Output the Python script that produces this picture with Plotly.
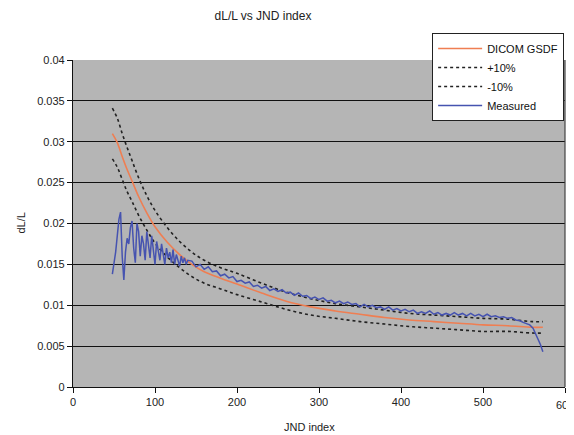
import plotly.graph_objects as go

# ---- data ----
gsdf_x = [48, 54, 60, 66, 72, 80, 90, 100, 115, 130, 145, 160, 180, 200, 230, 260,
          290, 320, 350, 380, 410, 440, 470, 500, 530, 560, 573]
gsdf_y = [0.0310, 0.0299, 0.0282, 0.0266, 0.0252, 0.0233, 0.0213, 0.0196, 0.0177,
          0.0162, 0.0150, 0.0141, 0.0133, 0.0126, 0.0115, 0.0105, 0.0098, 0.0093,
          0.0089, 0.0085, 0.0082, 0.0080, 0.0078, 0.0076, 0.0075, 0.0073, 0.0073]
plus10_y = [0.0341, 0.0329, 0.0310, 0.0293, 0.0277, 0.0256, 0.0234, 0.0216, 0.0195,
            0.0178, 0.0165, 0.0155, 0.0146, 0.0139, 0.0127, 0.0116, 0.0108, 0.0102,
            0.0098, 0.0094, 0.0090, 0.0088, 0.0086, 0.0084, 0.0083, 0.0080, 0.0080]
minus10_y = [0.0279, 0.0269, 0.0254, 0.0239, 0.0227, 0.0210, 0.0192, 0.0176, 0.0159,
             0.0146, 0.0135, 0.0127, 0.0120, 0.0113, 0.0104, 0.0095, 0.0088, 0.0084,
             0.0080, 0.0077, 0.0074, 0.0072, 0.0070, 0.0068, 0.0068, 0.0066, 0.0066]

meas_x = [48, 50, 52, 54, 56, 58, 60, 62, 64, 66, 68, 70, 72, 74, 76, 78, 80, 82, 84,
          86, 88, 90, 92, 94, 96, 98, 100, 102, 104, 106, 108, 110, 112, 114, 116, 118,
          120, 122, 124, 126, 128, 130, 132, 134, 136, 138, 140,
          145, 150, 155, 160, 165, 170, 175, 180, 185, 190, 195, 200, 205, 210, 215,
          220, 225, 230, 235, 240, 245, 250, 255, 260, 265, 270, 275, 280, 285, 290,
          295, 300, 305, 310, 315, 320, 325, 330, 335, 340, 345, 350, 355, 360, 365,
          370, 375, 380, 385, 390, 395, 400, 405, 410, 415, 420, 425, 430, 435, 440,
          445, 450, 455, 460, 465, 470, 475, 480, 485, 490, 495, 500, 505, 510, 515,
          520, 525, 530, 535, 540, 545, 549, 553, 557, 561, 564, 567, 570, 573]
meas_y = [0.0138, 0.0150, 0.0165, 0.0185, 0.0205, 0.0214, 0.0160, 0.0131, 0.0165,
          0.0182, 0.0175, 0.0195, 0.0203, 0.0170, 0.0152, 0.0200, 0.0190, 0.0160,
          0.0185, 0.0175, 0.0155, 0.0190, 0.0172, 0.0158, 0.0185, 0.0168, 0.0150,
          0.0178, 0.0165, 0.0155, 0.0175, 0.0160, 0.0150, 0.0170, 0.0158, 0.0165,
          0.0152, 0.0168, 0.0150, 0.0162, 0.0155, 0.0148, 0.0160, 0.0152, 0.0158,
          0.0150, 0.0155,
          0.0154, 0.0147, 0.0150, 0.0144, 0.0147, 0.0141, 0.0142, 0.0136, 0.0138,
          0.01335, 0.0135, 0.0129, 0.01305, 0.0127, 0.01285, 0.0123, 0.01245, 0.0121,
          0.0123, 0.0118, 0.0120, 0.0117, 0.0119, 0.0115, 0.0116, 0.0112, 0.0115,
          0.0111, 0.0112, 0.0108, 0.0110, 0.0107, 0.0109, 0.0105, 0.0106, 0.0103,
          0.0105, 0.0102, 0.0104, 0.0101, 0.0102, 0.0098, 0.0101, 0.0098, 0.0100,
          0.0097, 0.0098, 0.0095, 0.0098, 0.0094, 0.0096, 0.0093, 0.0095, 0.0092,
          0.0094, 0.0090, 0.0092, 0.0090, 0.0093, 0.0089, 0.0091, 0.0088, 0.0090,
          0.0088, 0.0091, 0.0088, 0.0090, 0.0087, 0.0090, 0.0087, 0.0089, 0.0086,
          0.0089, 0.0086, 0.0087, 0.0085, 0.0086, 0.0084, 0.0085, 0.0082, 0.0081,
          0.0079, 0.0077, 0.0076, 0.0072, 0.0066, 0.0059, 0.0052, 0.0043]

x_ticks = [0, 100, 200, 300, 400, 500, 600]
x_tick_text = ["0", "100", "200", "300", "400", "500", ""]
y_ticks = [0, 0.005, 0.01, 0.015, 0.02, 0.025, 0.03, 0.035, 0.04]
y_tick_text = ["0", "0.005", "0.01", "0.015", "0.02", "0.025", "0.03", "0.035", "0.04"]

FONT = "Liberation Sans, Arial, sans-serif"

fig = go.Figure()
fig.add_trace(go.Scatter(x=gsdf_x, y=gsdf_y, mode="lines", name="DICOM GSDF",
                         line=dict(color="#ef7e52", width=1.6, shape="spline")))
fig.add_trace(go.Scatter(x=gsdf_x, y=plus10_y, mode="lines", name="+10%",
                         line=dict(color="#222222", width=1.6, dash="dot", shape="spline")))
fig.add_trace(go.Scatter(x=gsdf_x, y=minus10_y, mode="lines", name="-10%",
                         line=dict(color="#222222", width=1.6, dash="dot", shape="spline")))
fig.add_trace(go.Scatter(x=meas_x, y=meas_y, mode="lines", name="Measured",
                         line=dict(color="#4653b0", width=1.5)))

# the page body has an 8px margin: work in page pixels, subtract OFF
OFF = 8
PW, PH = 574, 435
W, H = PW - OFF, PH - OFF
L, R, T, B = 72.5 - OFF, 565 - OFF, 60 - OFF, 387 - OFF


def px_x(p):
    return (p - OFF - L) / (R - L)


def px_y(p):
    return (B - (p - OFF)) / (B - T)


fig.update_layout(
    width=W, height=H,
    margin=dict(l=L, r=W - R, t=T, b=H - B, pad=0),
    paper_bgcolor="white",
    plot_bgcolor="#b5b5b5",
    font=dict(family=FONT, size=11, color="#222222"),
    title=dict(text="dL/L vs JND index", x=(263 - OFF) / W, xref="container", xanchor="center",
               y=1 - (16 - OFF) / H, yref="container", yanchor="middle",
               font=dict(family=FONT, size=12, color="#222222")),
    showlegend=True,
    legend=dict(x=px_x(432), y=px_y(33), xanchor="left", yanchor="top",
                bgcolor="white", bordercolor="#222222", borderwidth=1,
                font=dict(family=FONT, size=11, color="#111111"),
                tracegroupgap=0, itemwidth=44),
    xaxis=dict(range=[0, 600], tickvals=x_ticks, ticktext=x_tick_text,
               showgrid=False, zeroline=False, showline=True, linecolor="#111111",
               linewidth=1.2, ticks="outside", ticklen=5, tickcolor="#111111",
               tickfont=dict(size=11, color="#222222")),
    yaxis=dict(range=[0, 0.04], tickvals=y_ticks, ticktext=y_tick_text,
               showgrid=True, gridcolor="#111111", gridwidth=1.2, zeroline=False,
               showline=True, linecolor="#111111", linewidth=1.2,
               ticks="outside", ticklen=5, tickcolor="#111111",
               tickfont=dict(size=11, color="#222222")),
    annotations=[
        dict(text="600", xref="paper", yref="paper", x=1, y=px_y(405),
             xanchor="center", yanchor="middle", showarrow=False,
             font=dict(family=FONT, size=11, color="#222222")),
        dict(text="JND index", xref="paper", yref="paper", x=px_x(309),
             y=px_y(427), xanchor="center", yanchor="middle", showarrow=False,
             font=dict(family=FONT, size=11, color="#222222")),
        dict(text="dL/L", xref="paper", yref="paper", x=px_x(20),
             y=px_y(223), xanchor="center", yanchor="middle", showarrow=False,
             textangle=-90, font=dict(family=FONT, size=11, color="#222222")),
    ],
    shapes=[
        dict(type="line", xref="paper", yref="paper", x0=1, x1=1, y0=0, y1=1,
             line=dict(color="#444444", width=1.2)),
    ],
)

fig.write_html("out.html")
